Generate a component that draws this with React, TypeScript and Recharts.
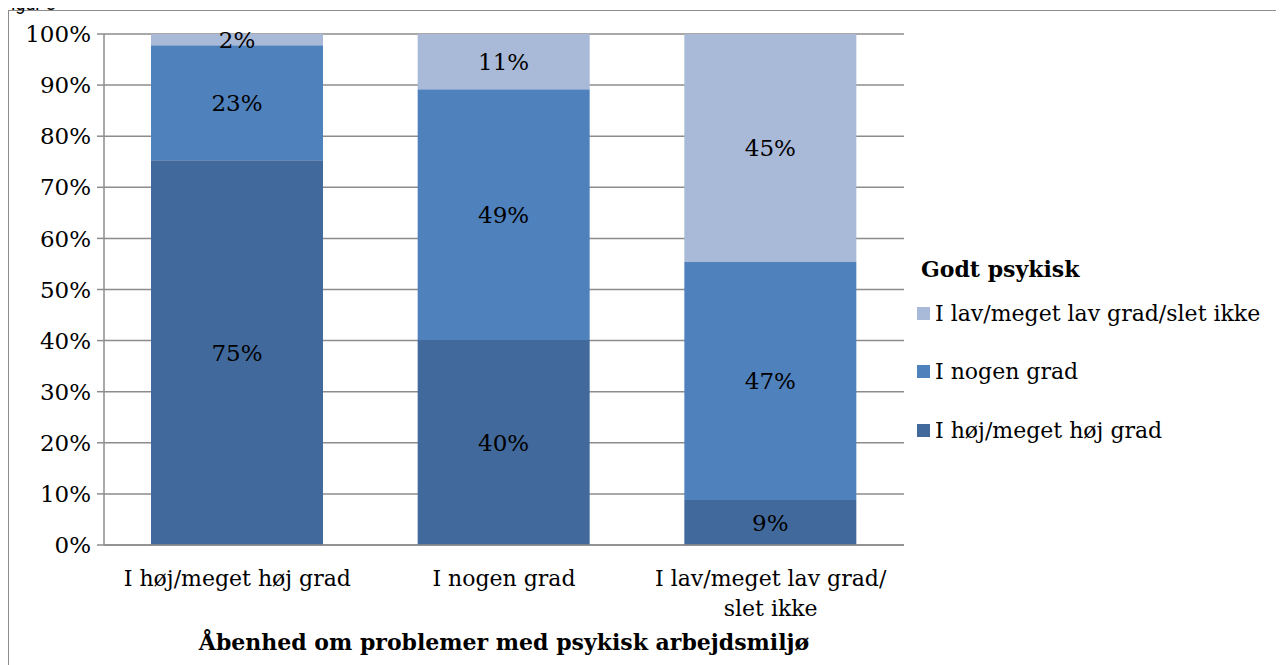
import React from 'react';
import { BarChart, Bar, XAxis, YAxis, CartesianGrid, LabelList, Legend } from 'recharts';

const categories = ['I høj/meget høj grad', 'I nogen grad', 'I lav/meget lav grad/slet ikke'];
const tickLines = [['I høj/meget høj grad'], ['I nogen grad'], ['I lav/meget lav grad/', 'slet ikke']];
const hoejValues = [75.3, 40.1, 8.8];
const nogenValues = [22.5, 49.1, 46.6];
const lavValues = [2.2, 10.8, 44.6];
const yTicks = [0, 10, 20, 30, 40, 50, 60, 70, 80, 90, 100];

const SERIES = [
  { key: 'hoej', name: 'I høj/meget høj grad', color: '#41699B' },
  { key: 'nogen', name: 'I nogen grad', color: '#4F81BD' },
  { key: 'lav', name: 'I lav/meget lav grad/slet ikke', color: '#A9B9D8' },
];

const FONT = '"DejaVu Serif", serif';
const GRAY = '#8c8c8c';

const data = categories.map((c, i) => ({
  name: c,
  idx: i,
  hoej: hoejValues[i],
  nogen: nogenValues[i],
  lav: lavValues[i],
}));

const CategoryTick = (props: any) => {
  const { x, y, payload } = props;
  const lines = tickLines[payload.index] || [payload.value];
  return (
    <text x={x} y={y + 33} textAnchor="middle" fontFamily={FONT} fontSize={22} fill="#000">
      {lines.map((l: string, i: number) => (
        <tspan key={i} x={x} dy={i === 0 ? 0 : 30}>{l}</tspan>
      ))}
    </text>
  );
};

const LegendBox = () => (
  <div style={{ fontFamily: FONT, fontSize: 22, color: '#000' }}>
    <div style={{ fontWeight: 'bold', marginLeft: 4, height: 28 }}>Godt psykisk</div>
    {[...SERIES].reverse().map((s) => (
      <div key={s.key} style={{ display: 'flex', alignItems: 'center', height: 58.5 }}>
        <span style={{ width: 13, height: 13, background: s.color, marginRight: 5, display: 'inline-block' }} />
        <span>{s.name}</span>
      </div>
    ))}
  </div>
);

const pct = (v: any) => `${Math.round(Number(v))}%`;

export default function App() {
  return (
    <div style={{ position: 'relative', marginTop: 2, width: 1276, height: 655, borderLeft: `1px solid ${GRAY}`, borderTop: `1px solid ${GRAY}`, borderRight: `1px solid ${GRAY}` }}>
      <div style={{ position: 'absolute', left: -8, top: -17, lineHeight: '20px', fontFamily: 'Roboto, sans-serif', fontSize: 18, color: '#000' }}>Figur 3</div>
      <BarChart
        width={1275}
        height={654}
        data={data}
        margin={{ top: 23, right: 380, bottom: 0, left: 0 }}
        barSize={172}
      >
        <CartesianGrid vertical={false} stroke={GRAY} strokeWidth={1.5} />
        <XAxis
          xAxisId="bounds"
          type="number"
          dataKey="idx"
          domain={[0, 3]}
          ticks={[0, 1, 2, 3]}
          height={1}
          tick={false}
          tickLine={{ stroke: GRAY, strokeWidth: 1.5 }}
          tickSize={7}
          axisLine={false}
        />
        <XAxis
          dataKey="name"
          height={119}
          interval={0}
          tick={<CategoryTick />}
          tickLine={false}
          axisLine={{ stroke: GRAY, strokeWidth: 1.5 }}
          label={{ value: 'Åbenhed om problemer med psykisk arbejdsmiljø', position: 'insideBottom', offset: 14, fontFamily: FONT, fontSize: 22, fontWeight: 'bold', fill: '#000' }}
        />
        <YAxis
          width={95}
          domain={[0, 100]}
          ticks={yTicks}
          interval={0}
          tickFormatter={(v) => `${v}%`}
          tick={{ fontFamily: FONT, fontSize: 23, fill: '#000' }}
          tickLine={{ stroke: GRAY, strokeWidth: 1.5 }}
          tickSize={7}
          tickMargin={6}
          axisLine={{ stroke: GRAY, strokeWidth: 1.5 }}
        />
        <Legend
          layout="vertical"
          align="center"
          verticalAlign="middle"
          content={<LegendBox />}
          wrapperStyle={{ left: 908, top: 245, width: 370, height: 230 }}
        />
        {SERIES.map((s) => (
          <Bar key={s.key} dataKey={s.key} name={s.name} stackId="a" fill={s.color} isAnimationActive={false}>
            <LabelList dataKey={s.key} position="center" formatter={pct} fontFamily={FONT} fontSize={23} fill="#000" />
          </Bar>
        ))}
      </BarChart>
    </div>
  );
}
